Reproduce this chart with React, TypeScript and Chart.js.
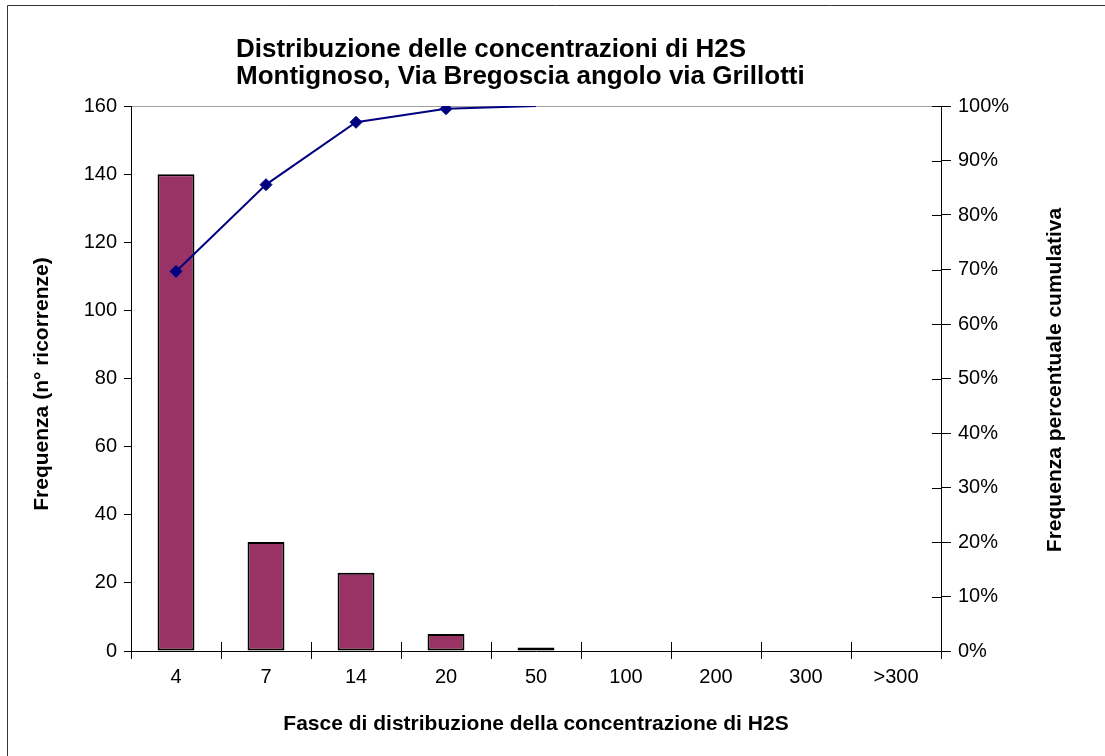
import { useEffect, useRef } from "react";
import { Chart, registerables } from "chart.js";

Chart.register(...registerables);

const categories = ["4", "7", "14", "20", "50", "100", "200", "300", ">300"];
const frequencies = [140, 32, 23, 5, 1, 0, 0, 0, 0];
const cumulativePercent = [69.65, 85.57, 97.01, 99.5, 100, null, null, null, null];
const markerRadius = [6, 6, 6, 6, 0, 0, 0, 0, 0];
const titleLines = [
  "Distribuzione delle concentrazioni di H2S",
  "Montignoso, Via Bregoscia angolo via Grillotti",
];
const xTitle = "Fasce di distribuzione della concentrazione di H2S";
const yLeftTitle = "Frequenza (n° ricorrenze)";
const yRightTitle = "Frequenza percentuale cumulativa";

const FONT = '"Liberation Sans", Arial, sans-serif';

const decorPlugin = {
  id: "decor",
  beforeDraw(chart: any) {
    const ctx = chart.ctx;
    ctx.save();
    ctx.strokeStyle = "#333";
    ctx.lineWidth = 1;
    ctx.beginPath();
    ctx.moveTo(7.5, 756);
    ctx.lineTo(7.5, 5.5);
    ctx.lineTo(1105, 5.5);
    ctx.stroke();
    ctx.restore();
  },
  afterDraw(chart: any) {
    const ctx = chart.ctx;
    const area = chart.chartArea;
    const xs = chart.scales.x;
    const y1 = chart.scales.y1;
    ctx.save();
    // inner halves of crossing tick marks
    ctx.strokeStyle = "#000";
    ctx.lineWidth = 1;
    ctx.beginPath();
    const n = categories.length;
    for (let i = 0; i <= n; i++) {
      const px = Math.round(xs.left + (i * (xs.right - xs.left)) / n) + 0.5;
      ctx.moveTo(px, area.bottom - 9);
      ctx.lineTo(px, area.bottom);
    }
    y1.ticks.forEach((t: any) => {
      const py = Math.round(y1.getPixelForValue(t.value)) + 0.5;
      ctx.moveTo(area.right - 9, py);
      ctx.lineTo(area.right, py);
    });
    ctx.stroke();

    ctx.fillStyle = "#000";
    ctx.font = `bold 26px ${FONT}`;
    ctx.textAlign = "left";
    ctx.textBaseline = "alphabetic";
    ctx.fillText(titleLines[0], 236, 57);
    ctx.fillText(titleLines[1], 236, 84);

    ctx.font = `bold 21px ${FONT}`;
    ctx.textAlign = "center";
    ctx.fillText(xTitle, (area.left + area.right) / 2, 730);

    ctx.textBaseline = "middle";
    ctx.save();
    ctx.translate(42, 384);
    ctx.rotate(-Math.PI / 2);
    ctx.fillText(yLeftTitle, 0, 0);
    ctx.restore();

    ctx.save();
    ctx.translate(1055, 380);
    ctx.rotate(-Math.PI / 2);
    ctx.fillText(yRightTitle, 0, 0);
    ctx.restore();

    ctx.restore();
  },
};

export default function App() {
  const ref = useRef<HTMLCanvasElement | null>(null);

  useEffect(() => {
    if (!ref.current) return;
    const chart = new Chart(ref.current, {
      type: "bar",
      data: {
        labels: categories,
        datasets: [
          {
            type: "line",
            label: "Cumulativa",
            data: cumulativePercent,
            yAxisID: "y1",
            borderColor: "#000080",
            backgroundColor: "#000080",
            borderWidth: 2,
            pointStyle: "rectRot",
            pointRadius: markerRadius,
            pointBorderWidth: 1,
            pointBackgroundColor: "#000080",
            pointBorderColor: "#000080",
            spanGaps: false,
            tension: 0,
            order: 0,
          } as any,
          {
            type: "bar",
            label: "Frequenza",
            data: frequencies,
            yAxisID: "y",
            backgroundColor: "#993366",
            borderColor: "#000",
            borderWidth: 2,
            borderSkipped: false,
            categoryPercentage: 1,
            barPercentage: 0.41,
            order: 1,
          } as any,
        ],
      },
      options: {
        responsive: false,
        animation: false,
        layout: { padding: { top: 106, left: 0, right: 0, bottom: 0 } },
        plugins: {
          legend: { display: false },
          title: { display: false },
          tooltip: { enabled: false },
        },
        scales: {
          x: {
            type: "category",
            offset: true,
            grid: {
              offset: true,
              drawOnChartArea: false,
              drawTicks: true,
              tickLength: 8,
              color: "#000",
              tickColor: "#000",
            },
            border: { display: true, color: "#000", width: 1 },
            ticks: {
              color: "#000",
              padding: 6,
              font: { family: FONT, size: 20 },
              maxRotation: 0,
              autoSkip: false,
            },
            afterFit(scale: any) {
              scale.height = 105;
            },
          },
          y: {
            position: "left",
            min: 0,
            max: 160,
            grid: {
              color: (c: any) => (c.tick && c.tick.value === 160 ? "#a0a0a0" : "rgba(0,0,0,0)"),
              tickColor: "#000",
              tickLength: 7,
              drawTicks: true,
            },
            border: { display: true, color: "#000", width: 1 },
            ticks: {
              stepSize: 20,
              color: "#000",
              padding: 7,
              font: { family: FONT, size: 20 },
            },
            afterFit(scale: any) {
              scale.width = 131;
            },
          },
          y1: {
            position: "right",
            min: 0,
            max: 100,
            grid: {
              drawOnChartArea: false,
              tickColor: "#000",
              color: "#000",
              tickLength: 10,
              drawTicks: true,
            },
            border: { display: true, color: "#000", width: 1 },
            ticks: {
              stepSize: 10,
              color: "#000",
              padding: 7,
              font: { family: FONT, size: 20 },
              callback: (v: any) => `${v}%`,
            },
            afterFit(scale: any) {
              scale.width = 164;
            },
          },
        },
      },
      plugins: [decorPlugin],
    });
    return () => chart.destroy();
  }, []);

  return (
    <canvas
      ref={ref}
      width={1105}
      height={756}
      style={{ position: "fixed", left: 0, top: 0, display: "block" }}
    />
  );
}
